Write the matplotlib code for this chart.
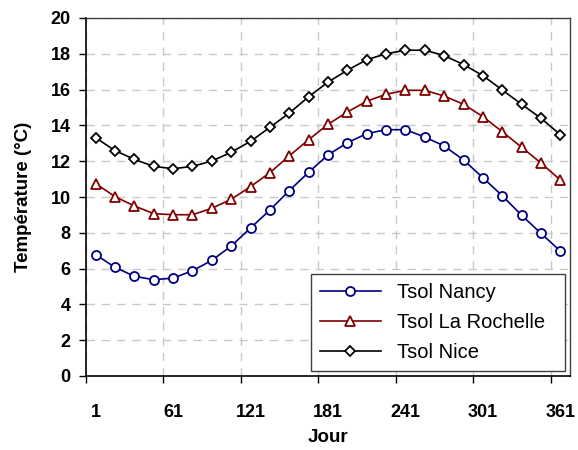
import matplotlib
matplotlib.use("Agg")
import matplotlib.pyplot as plt
from matplotlib.ticker import FixedLocator

plt.rcParams['font.family'] = ['Liberation Sans', 'DejaVu Sans']

# one value every 15 days
jours = [1 + 15 * i for i in range(25)]
tick_labels = ['1', '61', '121', '181', '241', '301', '361']

tsol_nancy = [6.78, 6.07, 5.57, 5.38, 5.47, 5.88, 6.46, 7.26, 8.27, 9.27,
              10.36, 11.38, 12.35, 13.03, 13.54, 13.76, 13.76, 13.35, 12.85,
              12.07, 11.08, 10.07, 8.98, 7.97, 6.98]
tsol_larochelle = [10.75, 10.02, 9.5, 9.07, 9.01, 9.01, 9.37, 9.87, 10.58,
                   11.36, 12.3, 13.2, 14.06, 14.75, 15.35, 15.74, 15.96,
                   15.96, 15.64, 15.18, 14.49, 13.65, 12.78, 11.9, 10.95]
tsol_nice = [13.31, 12.59, 12.1, 11.71, 11.58, 11.71, 12.01, 12.5, 13.11,
             13.89, 14.69, 15.6, 16.42, 17.08, 17.67, 18.0, 18.2, 18.2, 17.9,
             17.4, 16.78, 15.98, 15.18, 14.4, 13.48]

fig = plt.figure(figsize=(5.78, 4.5), dpi=100)
ax = fig.add_axes([86 / 578, 1 - 376 / 450, 484 / 578, 358 / 450])

common = dict(lw=1.2, markersize=6.5, markerfacecolor='white', markeredgewidth=1.3)
ax.plot(jours, tsol_nancy, '-o', color='#000080', label='Tsol Nancy', **common)
ax.plot(jours, tsol_larochelle, '-^', color='#800000', label='Tsol La Rochelle',
        **dict(common, markersize=7.5))
ax.plot(jours, tsol_nice, '-D', color='black', label='Tsol Nice',
        **dict(common, markersize=5.5))

ax.set_xlim(-6.5, 368.5)
ax.set_ylim(0, 20)
ax.set_yticks(range(0, 21, 2))

# ticks and grid sit between the categories, labels on them
ax.xaxis.set_major_locator(FixedLocator([-6.5 + 60 * k for k in range(7)]))
ax.xaxis.set_major_formatter(plt.NullFormatter())
ax.xaxis.set_minor_locator(FixedLocator([1 + 60 * k for k in range(7)]))
ax.set_xticklabels(tick_labels, minor=True)
ax.tick_params(axis='x', which='minor', length=0, pad=20)
ax.tick_params(axis='x', which='major', length=5, width=1, direction='out')
ax.tick_params(axis='y', length=5, width=1, direction='out', pad=6)
for lab in ax.get_xticklabels(minor=True) + ax.get_yticklabels():
    lab.set_fontsize(13)
    lab.set_fontweight('bold')

ax.grid(True, which='major', color='#c8c8c8', linestyle=(0, (6, 5)), lw=1)
ax.set_axisbelow(True)

for side in ('top', 'right'):
    ax.spines[side].set_color('#404040')
    ax.spines[side].set_linewidth(1)
for side in ('left', 'bottom'):
    ax.spines[side].set_color('black')
    ax.spines[side].set_linewidth(1.2)

ax.set_xlabel('Jour', fontsize=13.5, fontweight='bold')
ax.xaxis.set_label_coords(0.5, -0.148)
ax.set_ylabel('Température (°C)', fontsize=13.5, fontweight='bold')
ax.yaxis.set_label_coords(-0.112, 0.5)

leg = ax.legend(loc='lower left', bbox_to_anchor=(0.465, 0.014, 0.525, 0.282),
                mode='expand', fontsize=14.5, fancybox=False, framealpha=1,
                edgecolor='#404040', borderaxespad=0, handlelength=3,
                labelspacing=0.55, borderpad=0.45)
leg.get_frame().set_linewidth(1)

fig.savefig('out.png', dpi=100)
